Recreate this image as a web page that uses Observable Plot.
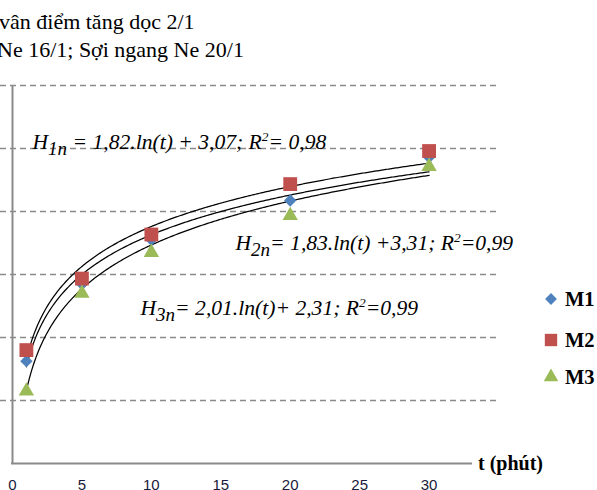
<!DOCTYPE html>
<html>
<head>
<meta charset="utf-8">
<script src="https://cdn.jsdelivr.net/npm/d3@7"></script>
<script src="https://cdn.jsdelivr.net/npm/@observablehq/plot@0.6"></script>
<style>
  html, body { margin: 0; padding: 0; background: #fff; }
  #wrap { position: relative; width: 597px; height: 490px; overflow: hidden; }
  #title { position: absolute; left: -1px; top: 8px; font-family: 'Liberation Serif', serif; font-size: 22px; line-height: 28px; color: #000; white-space: nowrap; }
  #title div:nth-child(2) { margin-left: -2px; }
  #chart { position: absolute; left: 0; top: 70px; }
  #xlabel { position: absolute; left: 478px; top: 453px; font-family: 'Liberation Serif', serif; font-weight: bold; font-size: 20px; line-height: 20px; white-space: nowrap; }
  .leg { position: absolute; height: 20px; display: flex; align-items: center; font-family: 'Liberation Serif', serif; font-weight: bold; font-size: 20.5px; line-height: 20px; }
  .leg svg { margin-right: 5px; }
</style>
</head>
<body>
<div id="wrap">
  <div id="title"></div>
  <div id="chart"></div>
  <div id="xlabel"></div>
</div>
<script>
// ---- data ----
const titleLines = ["vân điểm tăng dọc 2/1", "Ne 16/1; Sợi ngang Ne 20/1"];
const xAxisLabel = "t (phút)";
const times = [1, 5, 10, 20, 30];
const seriesNames = ["M1", "M2", "M3"];
const m1 = [3.25, 5.7, 7.1, 8.35, 9.72];
const m2 = [3.6, 5.87, 7.27, 8.87, 9.92];
const m3 = [2.3, 5.4, 6.7, 7.87, 9.43];
const slopes = [1.82, 1.83, 2.01];
const intercepts = [3.07, 3.31, 2.31];
const eqLabels = [
  "H_{1n} = 1,82.ln(t) + 3,07; R^{2}= 0,98",
  "H_{2n}= 1,83.ln(t) +3,31; R^{2}=0,99",
  "H_{3n}= 2,01.ln(t)+ 2,31; R^{2}=0,99"
];
const xTicks = [0, 5, 10, 15, 20, 25, 30];
const yGrid = [2, 4, 6, 8, 10, 12];

// ---- styles ----
const colors = ["#4F81BD", "#C0504D", "#9BBB59"];
const symbols = ["diamond2", "square", "triangle"];
const radii = [5.6, 7.8, 5.7];
const gridColor = "#8a8a8a";
const axisColor = "#8a8a8a";

document.getElementById("title").innerHTML = titleLines.map(s => `<div>${s}</div>`).join("");
document.getElementById("xlabel").textContent = xAxisLabel;

const seriesValues = [m1, m2, m3];
const points = seriesValues.map((vals, i) => times.map((t, j) => ({series: seriesNames[i], t, h: vals[j]})));

// trend lines: the fitted log curves printed on the chart, H = a·ln(t) + b
const tSamples = d3.range(times[0], times[times.length - 1] + 0.001, 0.1);
const trends = slopes.map((a, i) => tSamples.map(t => ({series: seriesNames[i], t, h: a * Math.log(t) + intercepts[i]})));

const eqFont = {fontFamily: "Liberation Serif", fontStyle: "italic", fontSize: 21.6, fill: "#000", textAnchor: "start", lineAnchor: "middle", frameAnchor: "top-left"};
const eqOffsets = [[20, 57], [223, 158], [128, 223]];

const marks = [
  Plot.ruleY(yGrid, {y: d => d, stroke: gridColor, strokeWidth: 1.4, strokeDasharray: "6,4", insetLeft: -12}),
  Plot.ruleX([0], {x: d => d, y1: 0, y2: yGrid[yGrid.length - 1], stroke: axisColor, strokeWidth: 2}),
  Plot.ruleY([0], {y: d => d, stroke: axisColor, strokeWidth: 2, insetLeft: -1, insetRight: 26}),
  Plot.text(xTicks, {x: d => d, y: 0, text: d => String(d), dy: 22, fontFamily: "Liberation Sans", fontSize: 15, fill: "#1a1a3a"}),
  ...trends.map(tr => Plot.line(tr, {x: "t", y: "h", stroke: "#000", strokeWidth: 1.25, curve: "linear"})),
  ...points.map((pts, i) => Plot.dot(pts, {x: "t", y: "h", symbol: () => symbols[i], r: radii[i], fill: colors[i], stroke: "none"})),
  ...eqLabels.map((lab, i) => Plot.text([lab], {...eqFont, text: d => d, dx: eqOffsets[i][0], dy: eqOffsets[i][1]}))
];

const chart = Plot.plot({
  width: 597,
  height: 420,
  marginTop: 15,
  marginBottom: 27,
  marginLeft: 12,
  marginRight: 99,
  x: {domain: [0, 35], axis: null},
  y: {domain: [0, 12], axis: null},
  symbol: {type: "identity"},
  style: {background: "transparent", overflow: "visible"},
  marks
});

// format sub/superscripts as real tspans
chart.querySelectorAll("text").forEach(t => {
  const s = t.textContent;
  if (!/[_^]\{/.test(s)) return;
  const parts = s.split(/([_^]\{[^}]*\})/).filter(p => p.length);
  t.textContent = "";
  let cur = 0;
  for (const p of parts) {
    const ts = document.createElementNS("http://www.w3.org/2000/svg", "tspan");
    let target = 0, txt = p, fs = null;
    if (p.startsWith("_{")) { target = 6; txt = p.slice(2, -1); fs = "88%"; }
    else if (p.startsWith("^{")) { target = -8; txt = p.slice(2, -1); fs = "62%"; }
    if (target !== cur) ts.setAttribute("dy", target - cur);
    cur = target;
    if (fs) ts.style.fontSize = fs;
    ts.textContent = txt;
    t.appendChild(ts);
  }
});

document.getElementById("chart").appendChild(chart);

// legend
const legendTops = [289, 330, 367];
const wrap = document.getElementById("wrap");
seriesNames.forEach((name, i) => {
  const row = document.createElement("div");
  row.className = "leg";
  row.style.left = "542px";
  row.style.top = legendTops[i] + "px";
  const sym = d3.symbol(i === 0 ? d3.symbolDiamond2 : i === 1 ? d3.symbolSquare : d3.symbolTriangle, Math.PI * radii[i] * radii[i] * (i === 1 ? 0.8 : 0.9))();
  row.innerHTML = `<svg width="18" height="20" viewBox="-9 -10 18 20"><path d="${sym}" fill="${colors[i]}"/></svg><span>${name}</span>`;
  wrap.appendChild(row);
});
</script>
</body>
</html>
